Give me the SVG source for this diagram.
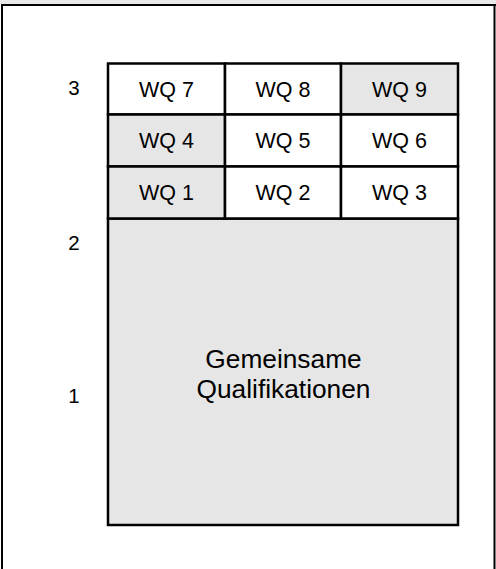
<svg xmlns="http://www.w3.org/2000/svg" width="496" height="569" viewBox="0 0 496 569">
<style>
.t{font-family:"Liberation Sans",Arial,sans-serif;fill:#000;text-anchor:middle}
.wq{font-size:21.5px}
.lv{font-size:20.5px}
.big{font-size:26.3px}
.w{fill:#fff;stroke:#000;stroke-width:2.5}
.g{fill:#e6e6e6;stroke:#000;stroke-width:2.5}
</style>
<rect x="0" y="0" width="496" height="4" fill="#e9e9e9"/>
<g id="frame" fill="none" stroke="#000" stroke-width="2">
<path d="M2,569 V5 H496"/>
<path d="M494.5,5 V569"/>
</g>
<g id="levels">
<text class="t lv" x="74" y="94.5">3</text>
<text class="t lv" x="74" y="250">2</text>
<text class="t lv" x="74" y="403">1</text>
</g>
<g id="common">
<rect class="g" x="108" y="218.5" width="350" height="306.5"/>
<text class="t big" x="283.5" y="368">Gemeinsame</text>
<text class="t big" x="283.5" y="397.5">Qualifikationen</text>
</g>
<g id="wq7"><rect class="w" x="108" y="63.5" width="117" height="51"/><text class="t wq" x="166.5" y="97">WQ 7</text></g>
<g id="wq8"><rect class="w" x="225" y="63.5" width="116" height="51"/><text class="t wq" x="283" y="97">WQ 8</text></g>
<g id="wq9"><rect class="g" x="341" y="63.5" width="117" height="51"/><text class="t wq" x="399.5" y="97">WQ 9</text></g>
<g id="wq4"><rect class="g" x="108" y="114.5" width="117" height="52"/><text class="t wq" x="166.5" y="148.3">WQ 4</text></g>
<g id="wq5"><rect class="w" x="225" y="114.5" width="116" height="52"/><text class="t wq" x="283" y="148.3">WQ 5</text></g>
<g id="wq6"><rect class="w" x="341" y="114.5" width="117" height="52"/><text class="t wq" x="399.5" y="148.3">WQ 6</text></g>
<g id="wq1"><rect class="g" x="108" y="166.5" width="117" height="52"/><text class="t wq" x="166.5" y="200.3">WQ 1</text></g>
<g id="wq2"><rect class="w" x="225" y="166.5" width="116" height="52"/><text class="t wq" x="283" y="200.3">WQ 2</text></g>
<g id="wq3"><rect class="w" x="341" y="166.5" width="117" height="52"/><text class="t wq" x="399.5" y="200.3">WQ 3</text></g>
<g id="connectors"></g>
</svg>
